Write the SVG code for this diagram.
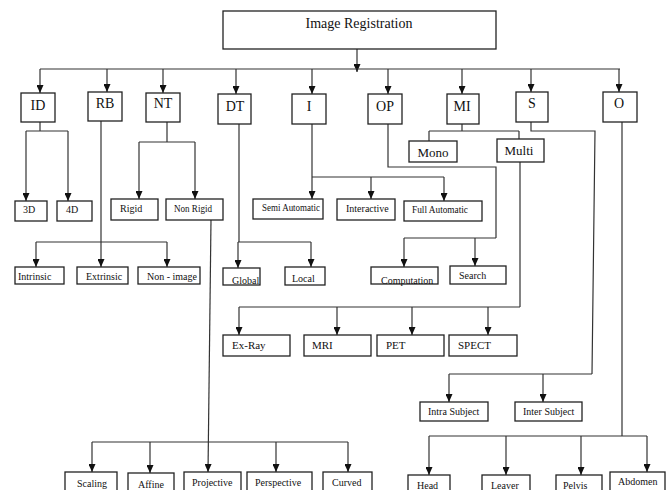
<svg xmlns="http://www.w3.org/2000/svg" width="669" height="490" viewBox="0 0 669 490">
<style>
.box{fill:#fff;stroke:#222;stroke-width:1.3}
.ln{fill:none;stroke:#333;stroke-width:1.2}
.ar{fill:none;stroke:#333;stroke-width:1.2;marker-end:url(#ah)}
text{font-family:"Liberation Serif","Times New Roman",serif;fill:#111}
.t14{font-size:14px}
.t13{font-size:13px}
.t11{font-size:11px}
.t10{font-size:10px}
.mid{text-anchor:middle}
</style>
<defs>
<marker id="ah" markerUnits="userSpaceOnUse" viewBox="0 0 8 7" refX="8" refY="3.5" markerWidth="8" markerHeight="7" orient="auto">
<path d="M0,0 L8,3.5 L0,7 z" fill="#111"/>
</marker>
</defs>
<rect width="669" height="490" fill="#fff"/>
<g id="connectors">
<path class="ar" d="M357 49 V72"/>
<path class="ln" d="M40 69 H620"/>
<path class="ar" d="M40 69 V93"/>
<path class="ar" d="M107 69 V92"/>
<path class="ar" d="M163 69 V93"/>
<path class="ar" d="M236 69 V94"/>
<path class="ar" d="M312 69 V94"/>
<path class="ar" d="M388 69 V94"/>
<path class="ar" d="M462 69 V94"/>
<path class="ar" d="M531 69 V92"/>
<path class="ar" d="M619 69 V92"/>
<path class="ln" d="M40 122 V131 M26 131 H68"/>
<path class="ar" d="M26 131 V201"/>
<path class="ar" d="M68 131 V201"/>
<path class="ar" d="M101 121 V267"/>
<path class="ln" d="M36 242 H167"/>
<path class="ar" d="M36 242 V267"/>
<path class="ar" d="M167 242 V267"/>
<path class="ln" d="M167 122 V142 M139 142 H195"/>
<path class="ar" d="M139 142 V199"/>
<path class="ar" d="M195 142 V199"/>
<path class="ar" d="M211 220 L208 472"/>
<path class="ln" d="M92 442 H348"/>
<path class="ar" d="M92 442 V472"/>
<path class="ar" d="M150 442 V473"/>
<path class="ar" d="M276 442 V472"/>
<path class="ar" d="M348 442 V472"/>
<path class="ln" d="M239 124 V242 M238 242 H311"/>
<path class="ar" d="M238 242 V268"/>
<path class="ar" d="M311 242 V267"/>
<path class="ar" d="M312 124 V199"/>
<path class="ln" d="M312 177 H444"/>
<path class="ar" d="M371 177 V199"/>
<path class="ar" d="M444 177 V201"/>
<path class="ln" d="M388 124 V167 H496 V238 M404 238 H496"/>
<path class="ar" d="M404 238 V267"/>
<path class="ar" d="M475 238 V266"/>
<path class="ln" d="M462 124 V131 M429 131 H519 M429 131 V141 M519 131 V139"/>
<path class="ln" d="M520 162 V307 M239 307 H520"/>
<path class="ar" d="M239 307 V335"/>
<path class="ar" d="M337 307 V335"/>
<path class="ar" d="M412 307 V335"/>
<path class="ar" d="M488 307 V335"/>
<path class="ln" d="M531 122 V131 H595 L592 374 M449 374 H592"/>
<path class="ar" d="M449 374 V402"/>
<path class="ar" d="M543 374 V402"/>
<path class="ln" d="M622 122 V436 M429 436 H647"/>
<path class="ar" d="M429 436 V475"/>
<path class="ar" d="M506 436 V475"/>
<path class="ar" d="M581 436 V475"/>
<path class="ar" d="M647 436 V472"/>
</g>
<g id="n-root"><rect class="box" x="223" y="11" width="273" height="38"/><text class="t14 mid" x="359" y="28">Image Registration</text></g>
<g id="n-ID"><rect class="box" x="21" y="93" width="34" height="29"/><text class="t14 mid" x="38" y="110">ID</text></g>
<g id="n-RB"><rect class="box" x="88" y="92" width="34" height="29"/><text class="t14 mid" x="105" y="108">RB</text></g>
<g id="n-NT"><rect class="box" x="146" y="93" width="34" height="29"/><text class="t14 mid" x="163" y="108">NT</text></g>
<g id="n-DT"><rect class="box" x="218" y="94" width="33" height="30"/><text class="t14 mid" x="235" y="111">DT</text></g>
<g id="n-I"><rect class="box" x="292" y="94" width="34" height="30"/><text class="t14 mid" x="309" y="111">I</text></g>
<g id="n-OP"><rect class="box" x="368" y="94" width="34" height="30"/><text class="t14 mid" x="385" y="111">OP</text></g>
<g id="n-MI"><rect class="box" x="447" y="94" width="32" height="30"/><text class="t14 mid" x="462" y="111">MI</text></g>
<g id="n-S"><rect class="box" x="516" y="92" width="32" height="30"/><text class="t14 mid" x="532" y="108">S</text></g>
<g id="n-O"><rect class="box" x="603" y="92" width="34" height="30"/><text class="t14 mid" x="619" y="108">O</text></g>
<g id="n-Mono"><rect class="box" x="409" y="141" width="48" height="21"/><text class="t13 mid" x="433" y="157">Mono</text></g>
<g id="n-Multi"><rect class="box" x="497" y="139" width="47" height="23"/><text class="t13 mid" x="519" y="155">Multi</text></g>
<g id="n-3D"><rect class="box" x="15" y="201" width="32" height="20"/><text class="t10" x="23" y="213">3D</text></g>
<g id="n-4D"><rect class="box" x="57" y="201" width="35" height="20"/><text class="t10" x="66" y="213">4D</text></g>
<g id="n-Rigid"><rect class="box" x="111" y="199" width="47" height="21"/><text class="t10" x="120" y="212">Rigid</text></g>
<g id="n-NonRigid"><rect class="box" x="166" y="199" width="57" height="21"/><text class="t10" x="174" y="212" textLength="38" lengthAdjust="spacingAndGlyphs">Non Rigid</text></g>
<g id="n-Semi"><rect class="box" x="253" y="199" width="70" height="20"/><text class="t10" x="262" y="211" textLength="58" lengthAdjust="spacingAndGlyphs">Semi Automatic</text></g>
<g id="n-Interactive"><rect class="box" x="337" y="199" width="58" height="21"/><text class="t10" x="346" y="212">Interactive</text></g>
<g id="n-Full"><rect class="box" x="404" y="201" width="78" height="20"/><text class="t10" x="412" y="213" textLength="56" lengthAdjust="spacingAndGlyphs">Full Automatic</text></g>
<g id="n-Intrinsic"><rect class="box" x="15" y="267" width="49" height="17"/><text class="t10" x="18" y="280">Intrinsic</text></g>
<g id="n-Extrinsic"><rect class="box" x="77" y="267" width="51" height="17"/><text class="t10" x="86" y="280">Extrinsic</text></g>
<g id="n-Nonimage"><rect class="box" x="138" y="267" width="62" height="17"/><text class="t10" x="147" y="280">Non - image</text></g>
<g id="n-Global"><rect class="box" x="223" y="268" width="37" height="17"/><text class="t10" x="232" y="284">Global</text></g>
<g id="n-Local"><rect class="box" x="285" y="267" width="40" height="18"/><text class="t10" x="292" y="282">Local</text></g>
<g id="n-Computation"><rect class="box" x="371" y="267" width="67" height="17"/><text class="t10" x="381" y="284">Computation</text></g>
<g id="n-Search"><rect class="box" x="450" y="266" width="56" height="18"/><text class="t10" x="459" y="279">Search</text></g>
<g id="n-ExRay"><rect class="box" x="223" y="335" width="67" height="21"/><text class="t11" x="232" y="349">Ex-Ray</text></g>
<g id="n-MRI"><rect class="box" x="304" y="335" width="67" height="21"/><text class="t11" x="312" y="349">MRI</text></g>
<g id="n-PET"><rect class="box" x="377" y="335" width="67" height="21"/><text class="t11" x="386" y="349">PET</text></g>
<g id="n-SPECT"><rect class="box" x="449" y="335" width="68" height="21"/><text class="t11" x="458" y="349">SPECT</text></g>
<g id="n-Intra"><rect class="box" x="420" y="402" width="68" height="19"/><text class="t10" x="428" y="415">Intra Subject</text></g>
<g id="n-Inter"><rect class="box" x="515" y="402" width="67" height="19"/><text class="t10" x="523" y="415">Inter Subject</text></g>
<g id="n-Scaling"><rect class="box" x="65" y="472" width="52" height="24"/><text class="t10" x="77" y="487">Scaling</text></g>
<g id="n-Affine"><rect class="box" x="128" y="473" width="46" height="23"/><text class="t10" x="138" y="488">Affine</text></g>
<g id="n-Projective"><rect class="box" x="184" y="472" width="57" height="24"/><text class="t10" x="192" y="486">Projective</text></g>
<g id="n-Perspective"><rect class="box" x="247" y="472" width="65" height="24"/><text class="t10" x="255" y="486">Perspective</text></g>
<g id="n-Curved"><rect class="box" x="323" y="472" width="49" height="24"/><text class="t10" x="332" y="486">Curved</text></g>
<g id="n-Head"><rect class="box" x="408" y="475" width="42" height="21"/><text class="t10" x="417" y="489">Head</text></g>
<g id="n-Leaver"><rect class="box" x="482" y="475" width="48" height="21"/><text class="t10" x="491" y="489">Leaver</text></g>
<g id="n-Pelvis"><rect class="box" x="556" y="475" width="46" height="21"/><text class="t10" x="563" y="489">Pelvis</text></g>
<g id="n-Abdomen"><rect class="box" x="610" y="472" width="55" height="24"/><text class="t10" x="618" y="485">Abdomen</text></g>
</svg>
